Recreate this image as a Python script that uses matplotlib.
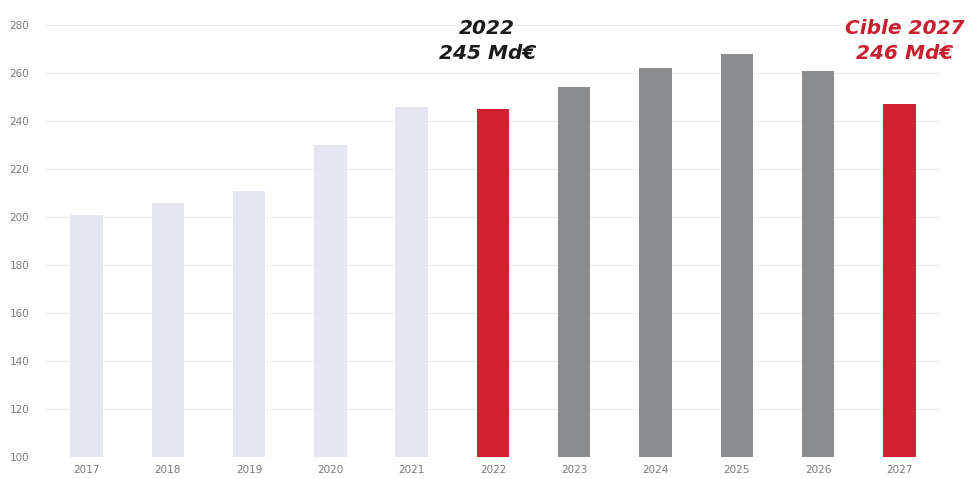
import matplotlib
matplotlib.use("Agg")
import matplotlib.pyplot as plt

years = ["2017", "2018", "2019", "2020", "2021", "2022",
         "2023", "2024", "2025", "2026", "2027"]
values = [201, 206, 211, 230, 246, 245, 254, 262, 268, 261, 247]
colors = ["#e6e5f2"] * 5 + ["#d1202f"] + ["#8b8c8e"] * 4 + ["#d1202f"]
yticks = [100, 120, 140, 160, 180, 200, 220, 240, 260, 280]

fig = plt.figure(figsize=(9.7, 4.79), dpi=100)
ax = fig.add_axes([0.0474, 0.0459, 0.9216, 0.902])

x = range(len(years))
ax.bar(x, [v - 100 for v in values], bottom=100, width=0.4, color=colors, zorder=2)

ax.set_xlim(-0.5, 10.5)
ax.set_ylim(100, 280)
ax.set_yticks(yticks)
ax.set_xticks(list(x))
ax.set_xticklabels(years)
ax.tick_params(length=0, labelsize=7.5, labelcolor="#7a7a7a", pad=6)
ax.tick_params(axis="y", pad=12)
ax.grid(axis="y", color="#ececec", linewidth=0.8, zorder=0)
for s in ax.spines.values():
    s.set_visible(False)

# annotations above the two red bars
ax.text(4.93, 273.5, "2022\n245 Md€", ha="center", va="center",
        fontsize=14.5, fontweight="bold", fontstyle="italic", color="#1a1a1a",
        linespacing=1.4, clip_on=False)
ax.text(10.07, 273.5, "Cible 2027\n246 Md€", ha="center", va="center",
        fontsize=14.5, fontweight="bold", fontstyle="italic", color="#c8202e",
        linespacing=1.4, clip_on=False)

fig.savefig("out.png", dpi=100)
